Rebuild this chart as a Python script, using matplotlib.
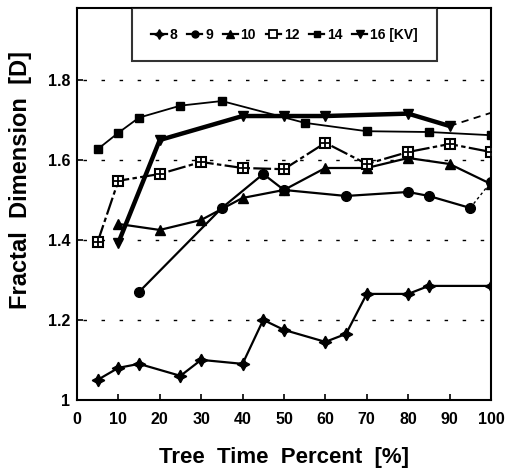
import numpy as np
import matplotlib.pyplot as plt
from matplotlib.lines import Line2D

plt.rcParams['font.family'] = ['Liberation Sans', 'DejaVu Sans']
plt.rcParams['font.weight'] = 'bold'

# tree time percent [%] and fractal dimension per voltage [KV]
x8 = [5, 10, 15, 25, 30, 40, 45, 50, 60, 65, 70, 80, 85, 100]
y8 = [1.05, 1.08, 1.09, 1.06, 1.10, 1.09, 1.20, 1.175, 1.145, 1.165, 1.265, 1.265, 1.285, 1.285]

x9 = [15, 35, 45, 50, 65, 80, 85, 95, 100]
y9 = [1.27, 1.48, 1.565, 1.525, 1.51, 1.52, 1.51, 1.48, 1.545]

x10 = [10, 20, 30, 40, 50, 60, 70, 80, 90, 100]
y10 = [1.44, 1.425, 1.45, 1.505, 1.525, 1.58, 1.58, 1.605, 1.59, 1.54]

x12 = [5, 10, 20, 30, 40, 50, 60, 70, 80, 90, 100]
y12 = [1.395, 1.548, 1.565, 1.595, 1.58, 1.577, 1.643, 1.59, 1.62, 1.64, 1.62]

x14 = [5, 10, 15, 25, 35, 55, 70, 85, 100]
y14 = [1.627, 1.668, 1.706, 1.736, 1.7475, 1.693, 1.672, 1.67, 1.662]

x16 = [10, 20, 40, 50, 60, 80, 90, 100]
y16 = [1.393, 1.65, 1.71, 1.71, 1.71, 1.716, 1.685, 1.718]

kv_labels = ['8', '9', '10', '12', '14', '16 [KV]']

fig = plt.figure(figsize=(5.13, 4.76), dpi=100)
ax = fig.add_axes([0.150, 0.160, 0.807, 0.823])

star4 = (4, 1, 0)
k = 'black'

# grid
for g in [1.2, 1.4, 1.6, 1.8]:
    ax.plot([1.5, 98.5], [g, g], color=k, lw=1.0, ls=(0, (2.5, 10.5)), zorder=1)

ax.plot(x8, y8, color=k, lw=1.6, marker=star4, ms=9, zorder=3)
ax.plot(x9[:-1], y9[:-1], color=k, lw=1.6, marker='o', ms=7, zorder=3)
ax.plot(x9[-2:], y9[-2:], color=k, lw=1.0, ls=(0, (2, 2)), zorder=3)
ax.plot(x9[-1:], y9[-1:], color=k, marker='o', ms=7, zorder=3)
ax.plot(x10, y10, color=k, lw=1.6, marker='^', ms=7, zorder=3)
ax.plot(x12, y12, color=k, lw=1.6, ls=(0, (8, 1.5, 2, 1.5)), marker='s', ms=7.5,
        mfc='white', mec=k, mew=1.5, zorder=3)
ax.plot(x12, y12, ls='none', marker='+', ms=6.5, mec=k, mew=1.3, zorder=4)
ax.plot(x14, y14, color=k, lw=1.3, marker='s', ms=6, zorder=3)
ax.plot(x16[:-1], y16[:-1], color=k, lw=3.2, marker='v', ms=7.5, zorder=3)
ax.plot(x16[-2:], y16[-2:], color=k, lw=1.3, ls=(0, (4, 3)), zorder=3)

handles = [
    Line2D([], [], color=k, lw=1.6, marker=star4, ms=7),
    Line2D([], [], color=k, lw=1.6, marker='o', ms=5),
    Line2D([], [], color=k, lw=1.6, marker='^', ms=6),
    Line2D([], [], color=k, lw=1.6, marker='s', ms=5.5, mfc='white', mec=k, mew=1.3),
    Line2D([], [], color=k, lw=1.6, marker='s', ms=5),
    Line2D([], [], color=k, lw=1.6, marker='v', ms=6),
]

leg = ax.legend(handles, kv_labels,
                loc='upper left', bbox_to_anchor=(0.133, 1.0), ncol=6,
                handlelength=1.1, handletextpad=0.2, columnspacing=0.7,
                fontsize=10, frameon=True, fancybox=False, borderpad=1.4,
                borderaxespad=0.0)
leg.get_frame().set_edgecolor(k)
leg.get_frame().set_linewidth(1.5)

ax.set_xlim(0, 100)
ax.set_ylim(1, 1.98)
ax.set_xticks(np.arange(0, 101, 10))
ax.set_yticks([1, 1.2, 1.4, 1.6, 1.8])
ax.set_yticklabels(['1', '1.2', '1.4', '1.6', '1.8'])
ax.tick_params(direction='in', length=4, width=1.2, labelsize=11.5, colors=k)
ax.tick_params(axis='x', pad=9)
ax.tick_params(axis='y', pad=5)
for s in ax.spines.values():
    s.set_linewidth(1.5)

ax.set_xlabel('Tree  Time  Percent  [%]', fontsize=16, fontweight='bold', labelpad=14)
ax.set_ylabel('Fractal  Dimension  [D]', fontsize=17, fontweight='bold')
ax.yaxis.set_label_coords(-0.108, 0.56)

fig.savefig('out.png', dpi=100)
